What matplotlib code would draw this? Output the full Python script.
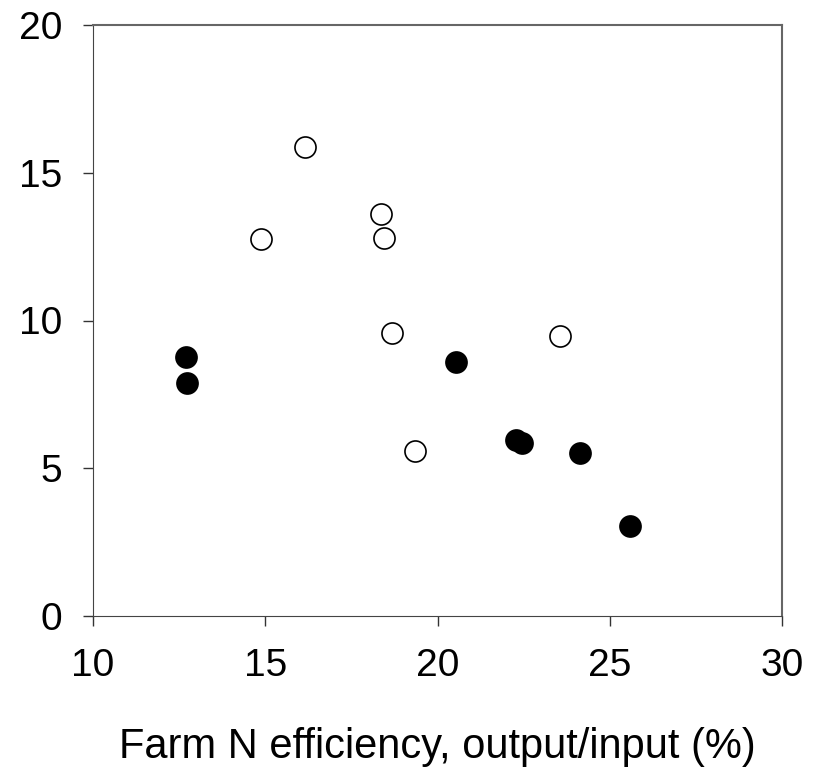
import numpy as np
import matplotlib.pyplot as plt

plt.rcParams['font.family'] = ['Liberation Sans', 'DejaVu Sans']

#%% datos
x_abiertos = [16.15, 14.88, 18.36, 18.45, 18.68, 19.35, 23.56]
y_abiertos = [15.88, 12.77, 13.61, 12.80, 9.59, 5.57, 9.46]

x_llenos = [12.70, 12.73, 20.54, 22.28, 22.45, 24.14, 25.59]
y_llenos = [8.78, 7.87, 8.61, 5.95, 5.84, 5.51, 3.04]

xticks = [10, 15, 20, 25, 30]
yticks = [0, 5, 10, 15, 20]

#%% ploteo
fig, ax = plt.subplots(figsize=(8.21, 7.7), dpi=100)
fig.subplots_adjust(left=93/821, right=782/821, top=1-25/770, bottom=1-616/770)

ax.scatter(x_abiertos, y_abiertos, s=230, facecolors='white', edgecolors='black', linewidths=1.2, zorder=3)
ax.scatter(x_llenos, y_llenos, s=230, facecolors='black', edgecolors='black', linewidths=1.2, zorder=3)

ax.set_xlim(10, 30)
ax.set_ylim(0, 20)
ax.set_xticks(xticks)
ax.set_yticks(yticks)
ax.tick_params(direction='out', length=7, width=1, labelsize=28, color='#333333')
ax.tick_params(axis='y', pad=15)
ax.tick_params(axis='x', pad=16)
for s in ['left', 'bottom']:
    ax.spines[s].set_color('#444444')
for s in ['top', 'right']:
    ax.spines[s].set_color('#666666')
    ax.spines[s].set_linewidth(1.5)
ax.set_xlabel('Farm N efficiency, output/input (%)', fontsize=30, labelpad=31)

plt.savefig('out.png', dpi=100)
